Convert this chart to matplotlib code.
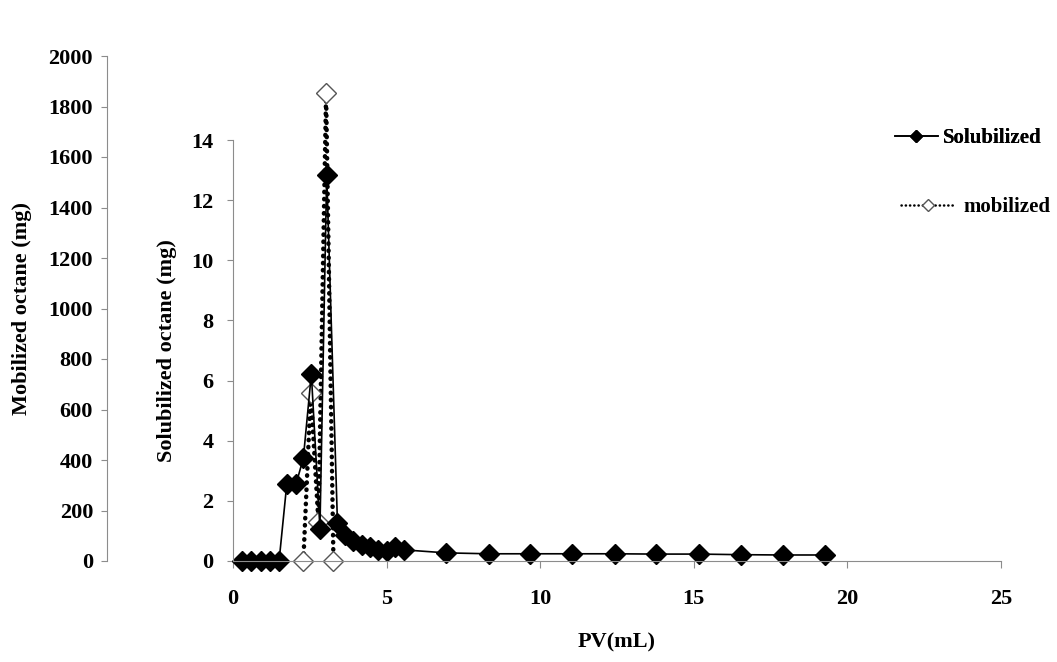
import matplotlib
matplotlib.use("Agg")
import matplotlib.pyplot as plt
from matplotlib.lines import Line2D

plt.rcParams['font.family'] = ['Liberation Serif', 'DejaVu Serif']
plt.rcParams['font.weight'] = 'bold'

# ---- data ----
sol_x = [0.3, 0.6, 0.9, 1.2, 1.5, 1.75, 2.05, 2.29, 2.55, 2.83, 3.05, 3.40,
         3.65, 3.92, 4.19, 4.46, 4.73, 5.00, 5.28, 5.57,
         6.94, 8.32, 9.67, 11.03, 12.42, 13.78, 15.16, 16.54, 17.90, 19.28]
sol_y = [0, 0, 0, 0, 0, 2.55, 2.55, 3.42, 6.22, 1.08, 12.85, 1.27,
         0.87, 0.68, 0.53, 0.45, 0.37, 0.32, 0.47, 0.37,
         0.27, 0.24, 0.24, 0.24, 0.24, 0.23, 0.23, 0.21, 0.20, 0.20]

mob_x = [2.29, 2.53, 2.78, 3.03, 3.27]
mob_y = [0, 664, 156, 1852, 0]

x_ticks = [0, 5, 10, 15, 20, 25]
sol_ticks = [0, 2, 4, 6, 8, 10, 12, 14]
mob_ticks = [0, 200, 400, 600, 800, 1000, 1200, 1400, 1600, 1800, 2000]

spine_col = '#8c8c8c'
fs = 16

fig = plt.figure(figsize=(10.57, 6.62), dpi=100)
W_px, H_px = 1057, 662
x0, x25 = 233, 1001
y0 = 561
y14 = 140
y2000 = 56
L = x0 / W_px
W = (x25 - x0) / W_px
B = (H_px - y0) / H_px
H_in = (y0 - y14) / H_px
H_out = (y0 - y2000) / H_px

# mobilized axes (outer left scale)
axm = fig.add_axes([L, B, W, H_out])
axm.set_xlim(0, 25)
axm.set_ylim(0, 2000)
axm.patch.set_visible(False)
for s in ['top', 'right', 'bottom']:
    axm.spines[s].set_visible(False)
axm.spines['left'].set_position(('axes', -(x0 - 107) / (x25 - x0)))
axm.spines['left'].set_color(spine_col)
axm.set_yticks(mob_ticks)
axm.set_xticks([])
axm.tick_params(axis='y', direction='out', length=4, color=spine_col,
                labelsize=fs, pad=6)
axm.set_ylabel('Mobilized octane (mg)', fontsize=fs, fontweight='bold',
               labelpad=12)
l_mob, = axm.plot(mob_x, mob_y, linestyle=(0, (0.1, 1.5)), color='black',
                  linewidth=3.2, dash_capstyle='round',
                  marker='D', markersize=10, markerfacecolor='white',
                  markeredgecolor='#555555', markeredgewidth=1.0,
                  label='mobilized', clip_on=False)

# solubilized axes (inner)
ax = fig.add_axes([L, B, W, H_in])
ax.patch.set_visible(False)
ax.set_xlim(0, 25)
ax.set_ylim(0, 14)
for s in ['top', 'right']:
    ax.spines[s].set_visible(False)
for s in ['left', 'bottom']:
    ax.spines[s].set_color(spine_col)
ax.set_xticks(x_ticks)
ax.set_yticks(sol_ticks)
ax.tick_params(axis='x', direction='out', length=5, color=spine_col,
               labelsize=fs, pad=15)
ax.tick_params(axis='y', direction='out', length=4, color=spine_col,
               labelsize=fs, pad=10)
ax.set_xlabel('PV(mL)', fontsize=fs, fontweight='bold', labelpad=17)
ax.set_ylabel('Solubilized octane (mg)', fontsize=fs, fontweight='bold',
              labelpad=10)
l_sol, = ax.plot(sol_x, sol_y, linestyle='-', color='black', linewidth=1.2,
                 marker='D', markersize=10.5, markerfacecolor='black',
                 markeredgecolor='black', label='Solubilized', clip_on=False)
ax.set_zorder(axm.get_zorder() + 1)

h_sol = Line2D([], [], linestyle='-', color='black', linewidth=1.2,
               marker='D', markersize=6.5, markerfacecolor='black',
               markeredgecolor='black')
h_mob = Line2D([], [], linestyle=(0, (0.1, 1.6)), color='black',
               linewidth=1.8, dash_capstyle='round', marker='D',
               markersize=6.5, markerfacecolor='white',
               markeredgecolor='#555555', markeredgewidth=1.0)

leg1 = fig.legend([h_sol], ['Solubilized'],
                  loc='upper left', bbox_to_anchor=(893 / W_px, 1 - 126 / H_px),
                  frameon=False, fontsize=15, handlelength=2.05,
                  handletextpad=0.25, borderpad=0.1, borderaxespad=0)
leg2 = fig.legend([h_mob], ['mobilized'],
                  loc='upper left', bbox_to_anchor=(899 / W_px, 1 - 195 / H_px),
                  frameon=False, fontsize=15, handlelength=2.55,
                  handletextpad=0.45, borderpad=0.1, borderaxespad=0)
fig.add_artist(leg1)

fig.savefig('out.png', dpi=100)
